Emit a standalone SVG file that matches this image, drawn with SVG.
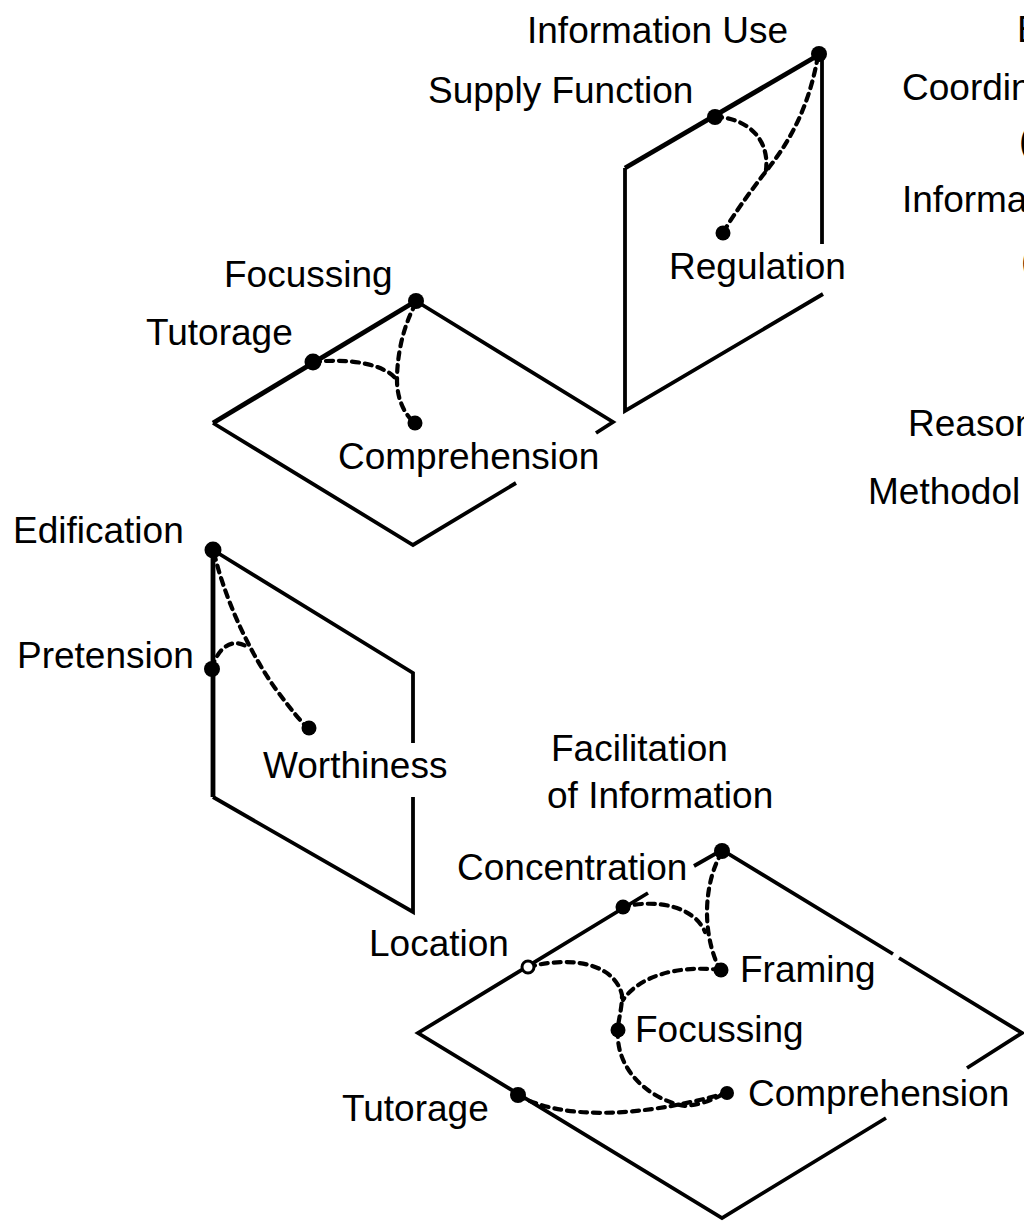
<svg xmlns="http://www.w3.org/2000/svg" width="1024" height="1221" viewBox="0 0 1024 1221">
  <style>
    .plane { fill: none; stroke: #000; stroke-width: 3.8; stroke-linejoin: miter; stroke-linecap: butt; }
    .heavy { stroke-width: 4.8; }
    .link { fill: none; stroke: #000; stroke-width: 4.2; stroke-dasharray: 7 6; stroke-linecap: round; }
    .dot { fill: #000; }
    .open { fill: #fff; stroke: #000; stroke-width: 3; }
    text { font-family: "Liberation Sans", Arial, Helvetica, sans-serif; font-size: 37px; fill: #000; }
  </style>
  <rect width="1024" height="1221" fill="#fff"/>

  <!-- Planes -->
  <g id="plane-information-use">
    <path class="plane heavy" d="M822,53 L625,168"/>
    <path class="plane" d="M625,168 L625,411 L823,294"/>
    <path class="plane" d="M822,53 L822,244"/>
  </g>
  <g id="plane-comprehension">
    <path class="plane heavy" d="M416,301 L213,423"/>
    <path class="plane" d="M596,433 L613,422 L416,301 M213,423 L413,545 L516,483"/>
  </g>
  <g id="plane-edification">
    <path class="plane heavy" d="M213,550 L213,797"/>
    <path class="plane" d="M413,743 L413,673 L213,550 M213,797 L413,912 L413,797"/>
  </g>
  <g id="plane-facilitation">
    <path class="plane" d="M648,893 L418,1033 L722,1218 L886,1118"/>
    <path class="plane" d="M694,866 L722,850 L893,954"/>
    <path class="plane" d="M899,958 L1022,1033 L967,1068"/>
  </g>

  <!-- Dashed connectors -->
  <g id="connectors">
    <path class="link" d="M715,117 C742,117 770,135 766,170"/>
    <path class="link" d="M818,56 C810,100 795,135 767,170 C750,192 733,215 723,233"/>

    <path class="link" d="M313,362 C350,358 385,364 397,380"/>
    <path class="link" d="M416,303 C401,330 397,360 397,380 C397,400 405,415 415,423"/>

    <path class="link" d="M214,553 C228,610 255,660 275,688 C290,708 300,721 308,728"/>
    <path class="link" d="M212,668 C218,648 232,636 249,648"/>

    <path class="link" d="M722,852 C705,880 700,930 720,970"/>
    <path class="link" d="M622,907 C660,898 695,908 705,932"/>
    <path class="link" d="M528,967 C575,955 615,965 622,995 C622,1010 618,1020 618,1030"/>
    <path class="link" d="M720,970 C680,965 640,975 623,1000"/>
    <path class="link" d="M618,1030 C615,1070 650,1100 685,1106 C705,1104 715,1098 726,1093"/>
    <path class="link" d="M518,1095 C560,1120 640,1118 726,1093"/>
  </g>

  <!-- Vertical plane: information use -->
  <g id="node-information-use">
    <circle class="dot" cx="819" cy="54" r="8"/>
    <text x="527" y="43">Information Use</text>
  </g>
  <g id="node-supply-function">
    <circle class="dot" cx="715" cy="117" r="8"/>
    <text x="428" y="103">Supply Function</text>
  </g>
  <g id="node-regulation">
    <circle class="dot" cx="723" cy="233" r="7.5"/>
    <text x="669" y="279">Regulation</text>
  </g>

  <!-- Horizontal plane: comprehension -->
  <g id="node-focussing-1">
    <circle class="dot" cx="416" cy="301" r="8"/>
    <text x="224" y="287">Focussing</text>
  </g>
  <g id="node-tutorage-1">
    <circle class="dot" cx="313" cy="362" r="8.5"/>
    <text x="146" y="345">Tutorage</text>
  </g>
  <g id="node-comprehension-1">
    <circle class="dot" cx="415" cy="423" r="7.5"/>
    <text x="338" y="469">Comprehension</text>
  </g>

  <!-- Vertical plane: edification -->
  <g id="node-edification">
    <circle class="dot" cx="213" cy="550" r="8.5"/>
    <text x="13" y="543">Edification</text>
  </g>
  <g id="node-pretension">
    <circle class="dot" cx="212" cy="669" r="8"/>
    <text x="17" y="668">Pretension</text>
  </g>
  <g id="node-worthiness">
    <circle class="dot" cx="309" cy="728" r="7.5"/>
    <text x="263" y="778">Worthiness</text>
  </g>

  <!-- Horizontal plane: facilitation of information -->
  <g id="node-facilitation">
    <circle class="dot" cx="722" cy="851" r="8"/>
    <text x="551" y="761">Facilitation</text>
    <text x="547" y="808">of Information</text>
  </g>
  <g id="node-concentration">
    <circle class="dot" cx="623" cy="907" r="7.5"/>
    <text x="457" y="880">Concentration</text>
  </g>
  <g id="node-location">
    <circle class="open" cx="528" cy="967" r="6"/>
    <text x="369" y="956">Location</text>
  </g>
  <g id="node-framing">
    <circle class="dot" cx="721" cy="970" r="7.5"/>
    <text x="740" y="982">Framing</text>
  </g>
  <g id="node-focussing-2">
    <circle class="dot" cx="618" cy="1030" r="7.5"/>
    <text x="635" y="1042">Focussing</text>
  </g>
  <g id="node-tutorage-2">
    <circle class="dot" cx="518" cy="1095" r="8"/>
    <text x="342" y="1121">Tutorage</text>
  </g>
  <g id="node-comprehension-2">
    <circle class="dot" cx="727" cy="1093" r="7"/>
    <text x="748" y="1106">Comprehension</text>
  </g>

  <!-- Labels running off the right edge -->
  <g id="edge-labels">
    <text x="1017" y="42">E</text>
    <text x="902" y="100">Coordin</text>
    <text x="1019" y="153">(</text>
    <text x="902" y="212">Informa</text>
    <text x="1021" y="273">(</text>
    <text x="908" y="436">Reason</text>
    <text x="868" y="504">Methodol</text>
  </g>
</svg>
